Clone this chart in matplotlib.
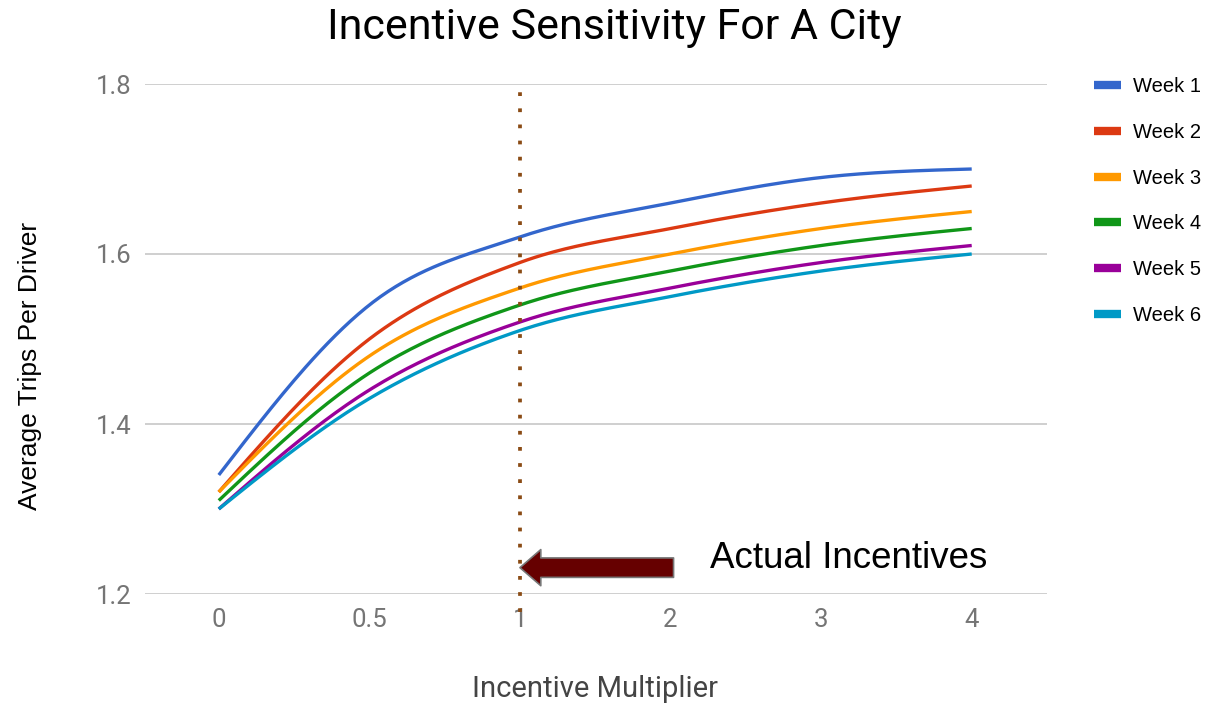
import numpy as np
import matplotlib
matplotlib.use("Agg")
import matplotlib.pyplot as plt
from matplotlib.lines import Line2D

# Incentive multipliers (categorical x axis) and weekly average trips per driver
multipliers = ["0", "0.5", "1", "2", "3", "4"]
week1 = [1.34, 1.54, 1.62, 1.66, 1.69, 1.70]
week2 = [1.32, 1.50, 1.59, 1.63, 1.66, 1.68]
week3 = [1.32, 1.48, 1.56, 1.60, 1.63, 1.65]
week4 = [1.31, 1.46, 1.54, 1.58, 1.61, 1.63]
week5 = [1.30, 1.44, 1.52, 1.56, 1.59, 1.61]
week6 = [1.30, 1.43, 1.51, 1.55, 1.58, 1.60]
series_names = ["Week 1", "Week 2", "Week 3", "Week 4", "Week 5", "Week 6"]
colors = ["#3366CC", "#DC3912", "#FF9900", "#109618", "#990099", "#0099C6"]
actual_multiplier = "1"


def smooth(y, n=40):
    """Cubic spline through the points (category-index space), natural-style ends."""
    y = np.asarray(y, dtype=float)
    x = np.arange(len(y), dtype=float)
    m = np.zeros_like(y)
    m[1:-1] = (y[2:] - y[:-2]) / 2.0
    m[0] = (3 * (y[1] - y[0]) - m[1]) / 2.0
    m[-1] = (3 * (y[-1] - y[-2]) - m[-2]) / 2.0
    xs, ys = [], []
    for i in range(len(y) - 1):
        t = np.linspace(0, 1, n, endpoint=(i == len(y) - 2))
        h00 = 2 * t**3 - 3 * t**2 + 1
        h10 = t**3 - 2 * t**2 + t
        h01 = -2 * t**3 + 3 * t**2
        h11 = t**3 - t**2
        ys.append(h00 * y[i] + h10 * m[i] + h01 * y[i + 1] + h11 * m[i + 1])
        xs.append(x[i] + t)
    return np.concatenate(xs), np.concatenate(ys)


fig = plt.figure(figsize=(12.25, 7.05), dpi=100)
ax = fig.add_axes([145 / 1225, 1 - 594 / 705, (1047 - 145) / 1225, (594 - 84) / 705])

for name, vals, c in zip(series_names, [week1, week2, week3, week4, week5, week6], colors):
    xs, ys = smooth(vals)
    ax.plot(xs, ys, color=c, lw=2.4, solid_capstyle="butt", label=name, zorder=3)

ax.set_xlim(-0.49, 5.5)
ax.set_ylim(1.2, 1.8)
ax.set_xticks(range(len(multipliers)))
ax.set_xticklabels(multipliers)
ax.set_yticks([1.2, 1.4, 1.6, 1.8])
ax.set_yticklabels(["1.2", "1.4", "1.6", "1.8"])
for s in ax.spines.values():
    s.set_visible(False)
ax.grid(axis="y", color="#cccccc", lw=1.3, zorder=0)
ax.tick_params(axis="both", length=0, labelsize=18.5, labelcolor="#757575")
ax.tick_params(axis="x", pad=10)
ax.tick_params(axis="y", pad=10)
for lab in ax.get_xticklabels() + ax.get_yticklabels():
    lab.set_fontfamily("Roboto")

# Dotted marker at the actual incentive level
xi = multipliers.index(actual_multiplier)
ax.plot([xi, xi], [1.179, 1.796], color="#8a4b14", lw=2.7,
        linestyle=(0, (1.0, 3.3)), dash_capstyle="butt", clip_on=False, zorder=4)

# Block arrow pointing at the actual incentive line
ax.annotate("", xy=(xi, 1.231), xytext=(xi + 1.02, 1.231),
            arrowprops=dict(arrowstyle="simple,head_length=0.75,head_width=1.3,tail_width=0.7",
                            fc="#660000", ec="#777777", lw=1.2, mutation_scale=20,
                            shrinkA=0, shrinkB=0), zorder=5)
fig.text(710 / 1225, 1 - 568 / 705, "Actual Incentives", fontsize=26.5,
         family="Liberation Sans", color="black", va="baseline", ha="left")

fig.text(614 / 1225, 1 - 28 / 705, "Incentive Sensitivity For A City", fontsize=31,
         family="Roboto", color="black", ha="center", va="center")
fig.text(30 / 1225, 1 - 366 / 705, "Average Trips Per Driver", fontsize=19,
         family="Liberation Sans", color="black", rotation=90, ha="center", va="center")
fig.text(595 / 1225, 1 - 689 / 705, "Incentive Multiplier", fontsize=21,
         family="Roboto", color="#444444", ha="center", va="center")

handles = [Line2D([], [], color=c, lw=6, solid_capstyle="butt") for c in colors]
leg = fig.legend(handles, series_names, loc="upper left",
                 bbox_to_anchor=(1076 / 1225, 1 - 59 / 705), frameon=False,
                 handlelength=1.35, handletextpad=0.6, labelspacing=1.33,
                 prop={"family": "Liberation Sans", "size": 14.5})

fig.savefig("out.png", dpi=100, facecolor="white")
